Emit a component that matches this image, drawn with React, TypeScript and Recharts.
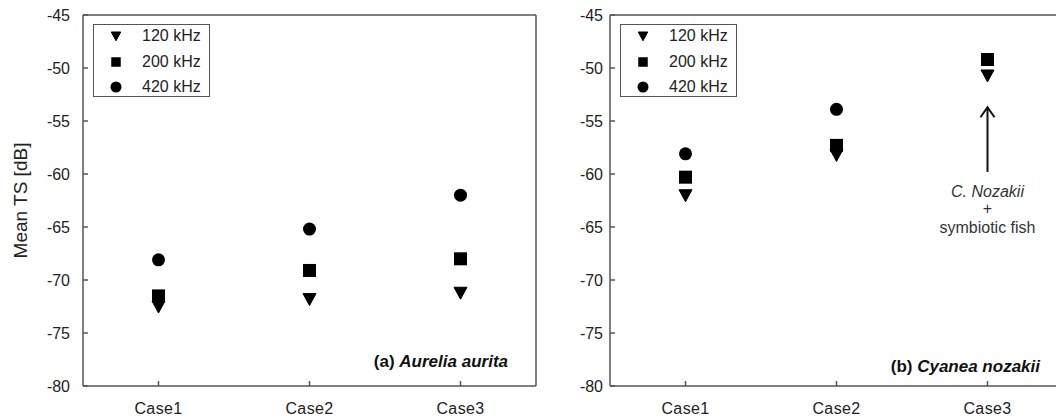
import React from 'react';
import { ScatterChart, Scatter, XAxis, YAxis, Legend, ReferenceLine } from 'recharts';

const categories = ['Case1', 'Case2', 'Case3'];
const yTicks = [-80, -75, -70, -65, -60, -55, -50, -45];
const freqLabels = ['120 kHz', '200 kHz', '420 kHz'];

// (a) Aurelia aurita
const aurelia120 = [-72.5, -71.8, -71.2];
const aurelia200 = [-71.5, -69.1, -68.0];
const aurelia420 = [-68.1, -65.2, -62.0];

// (b) Cyanea nozakii - no 420 kHz point visible at Case3
const cyanea120 = [-62.0, -58.2, -50.7];
const cyanea200 = [-60.3, -57.3, -49.2];
const cyanea420 = [-58.1, -53.9, null];

// arrow under Case3 of panel (b)
const arrowX = 3;
const arrowFrom = -59.8;
const arrowTo = -53.7;

const FONT = '"Liberation Sans", Arial, sans-serif';
const AXIS = '#555';
const INK = '#222';

const toPoints = (vals: (number | null)[]) =>
  vals
    .map((v, i) => (v == null ? null : { x: i + 1, y: v }))
    .filter((p) => p !== null) as { x: number; y: number }[];

// markers
const Tri = ({ cx, cy, s = 13 }: any) => (
  <path
    d={`M${cx - s / 2},${cy - s * 0.42} L${cx + s / 2},${cy - s * 0.42} L${cx},${cy + s * 0.5} Z`}
    fill="#000"
    stroke="#000"
    strokeLinejoin="round"
  />
);
const Sq = ({ cx, cy, s = 13 }: any) => <rect x={cx - s / 2} y={cy - s / 2} width={s} height={s} fill="#000" />;
const Dot = ({ cx, cy, s = 13 }: any) => <circle cx={cx} cy={cy} r={s / 2} fill="#000" />;

const markers = [Tri, Sq, Dot];

const LegendBox = () => (
  <div
    style={{
      position: 'relative',
      width: 117,
      height: 73,
      boxSizing: 'border-box',
      border: `1px solid ${AXIS}`,
      background: '#fff',
      fontFamily: FONT,
      fontSize: 16,
      color: INK,
    }}
  >
    {freqLabels.map((f, i) => {
      const M = markers[i];
      const top = 11 + i * 25.5;
      return (
        <div key={f} style={{ position: 'absolute', left: 0, top: top - 10, height: 20, width: 115 }}>
          <svg width={40} height={20} style={{ position: 'absolute', left: 0, top: 0 }}>
            <M cx={22} cy={10} s={i === 2 ? 11 : 9.5} />
          </svg>
          <span style={{ position: 'absolute', left: 48, top: 1, lineHeight: '18px' }}>{f}</span>
        </div>
      );
    })}
  </div>
);

const ArrowNote = (p: any) => {
  const { x1, y1, x2, y2 } = p;
  return (
    <g>
      <line x1={x1} y1={y1} x2={x2} y2={y2 + 1} stroke="#111" strokeWidth={2} />
      <polyline
        points={`${x2 - 7},${y2 + 10} ${x2},${y2} ${x2 + 7},${y2 + 10}`}
        fill="none"
        stroke="#111"
        strokeWidth={2}
      />
      <text x={x1} y={y1 + 25} textAnchor="middle" fontFamily={FONT} fontSize={16} fontStyle="italic" fill="#333">
        C. Nozakii
      </text>
      <text x={x1} y={y1 + 42} textAnchor="middle" fontFamily={FONT} fontSize={16} fill="#333">
        +
      </text>
      <text x={x1} y={y1 + 61} textAnchor="middle" fontFamily={FONT} fontSize={16} fill="#333">
        symbiotic fish
      </text>
    </g>
  );
};

interface PanelProps {
  s120: (number | null)[];
  s200: (number | null)[];
  s420: (number | null)[];
  tag: string;
  species: string;
  tagRight: number;
  tagBaseline: number;
  tickGap: number;
  yLabel?: boolean;
  arrow?: boolean;
}

const Panel = ({ s120, s200, s420, tag, species, tagRight, tagBaseline, tickGap, yLabel, arrow }: PanelProps) => {
  const series = [s120, s200, s420];
  return (
    <div style={{ position: 'relative', width: 544, height: 419 }}>
      <ScatterChart width={544} height={419} margin={{ top: 5, right: 0, bottom: 0, left: 0 }}>
        <XAxis
          type="number"
          dataKey="x"
          domain={[0.5, 3.5]}
          ticks={[1, 2, 3]}
          tickFormatter={(v: number) => categories[v - 1]}
          height={33}
          tickSize={-5}
          tickMargin={22}
          stroke={AXIS}
          strokeWidth={1.5}
          tick={{ fill: INK, fontSize: 16, fontFamily: FONT, letterSpacing: 0.4 }}
          allowDataOverflow
        />
        <XAxis
          xAxisId="top"
          orientation="top"
          type="number"
          dataKey="x"
          domain={[0.5, 3.5]}
          ticks={[1, 2, 3]}
          height={10}
          tickSize={-5}
          tick={false}
          stroke={AXIS}
          strokeWidth={1.5}
        />
        <YAxis
          type="number"
          dataKey="y"
          domain={[-80, -45]}
          ticks={yTicks}
          width={83}
          tickSize={-5}
          tickMargin={tickGap}
          stroke={AXIS}
          strokeWidth={1.5}
          tick={{ fill: INK, fontSize: 16, fontFamily: FONT }}
          allowDataOverflow
          label={
            yLabel
              ? {
                  value: 'Mean TS [dB]',
                  angle: -90,
                  position: 'insideLeft',
                  offset: 20,
                  style: { textAnchor: 'middle', fill: INK, fontSize: 19, fontFamily: FONT },
                }
              : undefined
          }
        />
        <YAxis
          yAxisId="right"
          orientation="right"
          type="number"
          domain={[-80, -45]}
          width={8}
          tick={false}
          tickLine={false}
          stroke={AXIS}
          strokeWidth={1.5}
        />
        <Legend
          layout="vertical"
          align="center"
          verticalAlign="middle"
          content={() => <LegendBox />}
          wrapperStyle={{ left: 93, top: 24, width: 117, height: 73 }}
        />
        {series.map((vals, i) => {
          const M = markers[i];
          return (
            <Scatter
              key={freqLabels[i]}
              name={freqLabels[i]}
              data={toPoints(vals)}
              fill="#000"
              isAnimationActive={false}
              shape={(p: any) => <M cx={p.cx} cy={p.cy} />}
            />
          );
        })}
        {arrow && (
          <ReferenceLine
            segment={[
              { x: arrowX, y: arrowFrom },
              { x: arrowX, y: arrowTo },
            ]}
            shape={(p: any) => <ArrowNote {...p} />}
          />
        )}
      </ScatterChart>
      <div
        style={{
          position: 'absolute',
          left: tagRight - 250,
          top: tagBaseline - 15,
          width: 250,
          textAlign: 'right',
          fontFamily: FONT,
          fontSize: 17,
          fontWeight: 'bold',
          color: '#111',
          lineHeight: '19px',
          whiteSpace: 'nowrap',
        }}
      >
        {tag} <i>{species}</i>
      </div>
    </div>
  );
};

export default function App() {
  return (
    <div
      style={{
        position: 'absolute',
        left: 0,
        top: 0,
        width: 1056,
        height: 419,
        overflow: 'hidden',
        background: '#fff',
      }}
    >
      <div style={{ position: 'absolute', left: 0, top: 0 }}>
        <Panel
          s120={aurelia120}
          s200={aurelia200}
          s420={aurelia420}
          tag="(a)"
          species="Aurelia aurita"
          tagRight={508}
          tagBaseline={367}
          tickGap={18}
          yLabel
        />
      </div>
      <div style={{ position: 'absolute', left: 527, top: 0 }}>
        <Panel
          s120={cyanea120}
          s200={cyanea200}
          s420={cyanea420}
          tag="(b)"
          species="Cyanea nozakii"
          tagRight={513}
          tagBaseline={372}
          tickGap={12}
          arrow
        />
      </div>
    </div>
  );
}
